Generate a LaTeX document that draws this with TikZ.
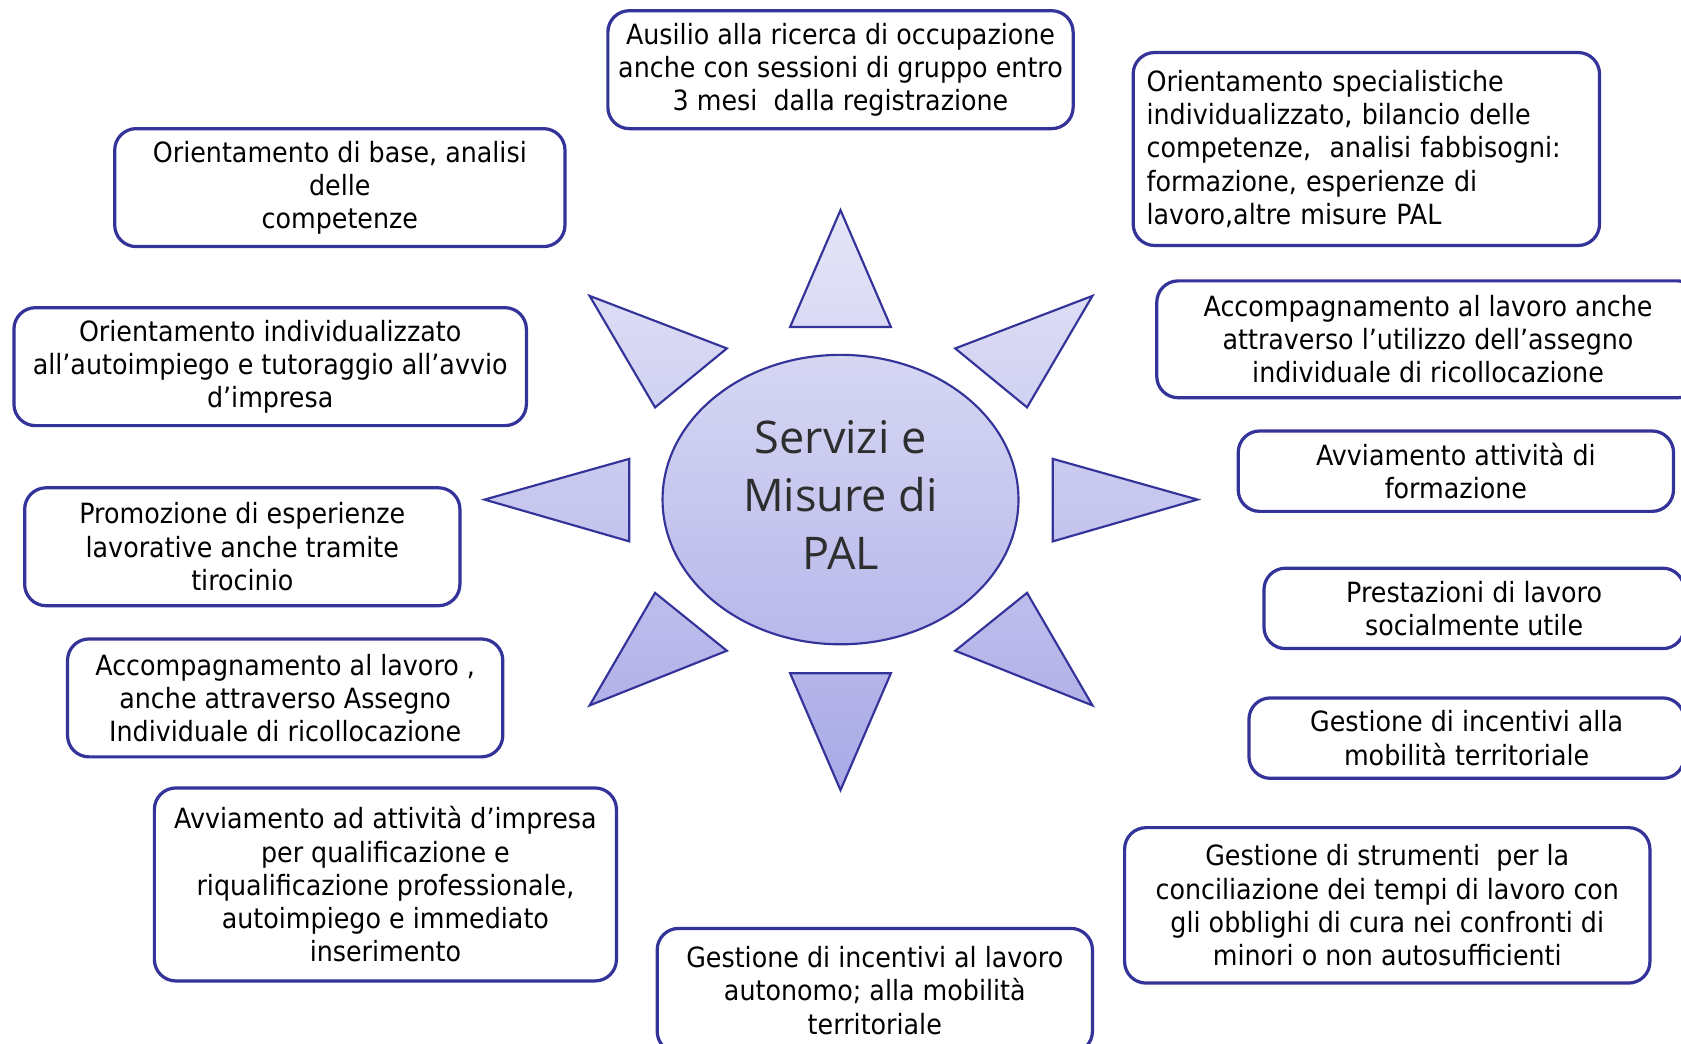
\documentclass[tikz,border=0pt]{standalone}
\usepackage{fontspec}
\setmainfont{DejaVu Sans}[FakeStretch=0.91]
\newfontfamily\centrefont{Open Sans}
\usetikzlibrary{shapes.geometric}
\definecolor{navy}{HTML}{333399}
\definecolor{sunTop}{HTML}{E6E6F8}
\definecolor{sunBot}{HTML}{A8A8E6}
\definecolor{centreText}{HTML}{2E2E2E}
\tikzset{
  box/.style={draw=navy, line width=3pt, rounded corners=20pt, fill=white,
    align=center, inner sep=0pt, font=\fontsize{26}{31}\selectfont},
  ray/.style={draw=navy, line width=2pt},
}
\begin{document}
\begin{tikzpicture}[x=1pt,y=-1pt]
\useasboundingbox (0,0) rectangle (1568,973);
\clip (0,0) rectangle (1568,973);
\fill[white] (0,0) rectangle (1568,973);
% sun with common vertical gradient
\begin{scope}
\clip (784,466) ellipse [x radius=166pt, y radius=135pt]
  (784,196) -- (831,305) -- (737,305) -- cycle
  (784,737) -- (831,628) -- (737,628) -- cycle
  (550,276) -- (678,325) -- (611,380) -- cycle
  (1019,276) -- (891,325) -- (958,380) -- cycle
  (550,658) -- (678,607) -- (611,553) -- cycle
  (1019,658) -- (891,607) -- (958,553) -- cycle
  (452,466) -- (587,428) -- (587,505) -- cycle
  (1117,466) -- (982,428) -- (982,505) -- cycle;
\shade[top color=sunTop, bottom color=sunBot] (440,190) rectangle (1130,745);
\end{scope}
\draw[ray] (784,196) -- (831,305) -- (737,305) -- cycle;
\draw[ray] (784,737) -- (831,628) -- (737,628) -- cycle;
\draw[ray] (550,276) -- (678,325) -- (611,380) -- cycle;
\draw[ray] (1019,276) -- (891,325) -- (958,380) -- cycle;
\draw[ray] (550,658) -- (678,607) -- (611,553) -- cycle;
\draw[ray] (1019,658) -- (891,607) -- (958,553) -- cycle;
\draw[ray] (452,466) -- (587,428) -- (587,505) -- cycle;
\draw[ray] (1117,466) -- (982,428) -- (982,505) -- cycle;
\node[ellipse, draw=navy, line width=2pt, minimum width=332pt, minimum height=270pt,
  inner sep=0pt, align=center, text=centreText,
  font=\centrefont\fontsize{42}{54}\selectfont] (centre) at (784,466)
  {Servizi e\\Misure di\\PAL\rule[-8pt]{0pt}{0pt}};
% boxes
\node[box, minimum width=434pt, minimum height=110pt] (b1) at (784,65)
  {Ausilio alla ricerca di occupazione\\anche con sessioni di gruppo entro\\3 mesi\ \ dalla registrazione};
\node[box, minimum width=420pt, minimum height=110pt] (b2) at (317,175)
  {Orientamento di base, analisi\\delle\\competenze};
\node[box, minimum width=478pt, minimum height=110pt] (b3) at (252,342)
  {Orientamento individualizzato\\all’autoimpiego e tutoraggio all’avvio\\d’impresa};
\node[box, align=left, text width=410pt, minimum width=435pt, minimum height=180pt] (b4) at (1274.5,139)
  {Orientamento specialistiche\\individualizzato, bilancio delle\\competenze,\ \ analisi fabbisogni:\\formazione, esperienze di\\lavoro,altre misure PAL};
\node[box, minimum width=506pt, minimum height=109pt] (b5) at (1332,316.5)
  {Accompagnamento al lavoro anche\\attraverso l’utilizzo dell’assegno\\individuale di ricollocazione};
\node[box, minimum width=406pt, minimum height=75pt] (b6) at (1358,439.5)
  {Avviamento attività di\\formazione};
\node[box, minimum width=392pt, minimum height=75pt] (b7) at (1375,567.5)
  {Prestazioni di lavoro\\socialmente utile};
\node[box, minimum width=406pt, minimum height=75pt] (b8) at (1368,688.5)
  {Gestione di incentivi alla\\mobilità territoriale};
\node[box, minimum width=406pt, minimum height=110pt] (b9) at (226,510)
  {Promozione di esperienze\\lavorative anche tramite\\tirocinio};
\node[box, minimum width=406pt, minimum height=110pt] (b10) at (266,651)
  {Accompagnamento al lavoro ,\\anche attraverso Assegno\\Individuale di ricollocazione};
\node[box, minimum width=431pt, minimum height=180pt] (b11) at (359.5,825)
  {Avviamento ad attività d’impresa\\per qualificazione e\\riqualificazione professionale,\\autoimpiego e immediato\\inserimento};
\node[box, minimum width=406pt, minimum height=116pt] (b12) at (816,924)
  {Gestione di incentivi al lavoro\\autonomo; alla mobilità\\territoriale};
\node[box, minimum width=490pt, minimum height=145pt] (b13) at (1294,844.5)
  {Gestione di strumenti\ \ per la\\conciliazione dei tempi di lavoro con\\gli obblighi di cura nei confronti di\\minori o non autosufficienti};
\end{tikzpicture}
\end{document}
